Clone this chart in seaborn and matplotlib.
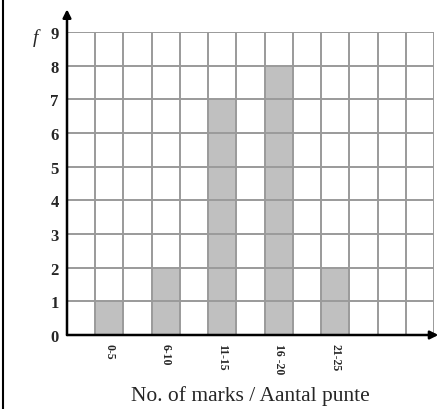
import matplotlib
matplotlib.use("Agg")
import matplotlib.pyplot as plt
import seaborn as sns
import pandas as pd
from matplotlib.lines import Line2D

# ── Data ─────────────────────────────────────────────────────────────────────
mark_groups = ["0-5", "6-10", "11-15", "16 -20", "21-25"]
frequencies = [1, 2, 7, 8, 2]
group_slots = [1.5, 3.5, 5.5, 7.5, 9.5]   # column centres on the grid paper
n_columns = 13
y_ticks = list(range(0, 10))

df = pd.DataFrame({"slot": group_slots, "f": frequencies, "group": mark_groups})

sns.set_theme(style="white")
plt.rcParams["font.family"] = ["Liberation Serif", "DejaVu Serif"]

fig = plt.figure(figsize=(4.43, 4.10), dpi=100)
ax = fig.add_axes([67 / 443, 74 / 410, 367 / 443, 303 / 410])

sns.barplot(data=df, x="slot", y="f", native_scale=True, width=0.5,
            color="#c0c0c0", saturation=1, edgecolor="none", ax=ax)

ax.set_xlim(0, n_columns)
ax.set_ylim(0, 9)

# grid paper drawn over the bars
ax.set_axisbelow(False)
ax.set_xticks(range(0, n_columns + 1), minor=True)
ax.set_yticks(y_ticks)
ax.grid(which="minor", axis="x", color="#9a9a9a", linewidth=1.4)
ax.grid(which="major", axis="y", color="#9a9a9a", linewidth=1.4)

ax.set_xticks(group_slots)
ax.set_xticklabels(mark_groups, rotation=270, fontsize=8.5, fontweight="bold")
ax.set_yticklabels([str(v) for v in y_ticks], fontsize=12, fontweight="bold")
ax.tick_params(axis="both", length=0, pad=6)
ax.tick_params(axis="y", pad=6)

for side in ["top", "right", "left", "bottom"]:
    ax.spines[side].set_visible(False)

# axes with arrow heads
ax.annotate("", xy=(0, 1.075), xytext=(0, 0), xycoords="axes fraction",
            arrowprops=dict(arrowstyle="-|>", color="black", lw=1.8,
                            mutation_scale=12, shrinkA=0, shrinkB=0),
            annotation_clip=False)
ax.annotate("", xy=(1.012, 0), xytext=(0, 0), xycoords="axes fraction",
            arrowprops=dict(arrowstyle="-|>", color="black", lw=1.8,
                            mutation_scale=12, shrinkA=0, shrinkB=0),
            annotation_clip=False)

ax.set_xlabel("No. of marks / Aantal punte", fontsize=15.5, labelpad=8)
ax.set_ylabel("")
fig.text(35 / 443, 1 - 38 / 410, "f", fontsize=14, style="italic",
         ha="center", va="center")

# frame line on the left edge of the picture
fig.add_artist(Line2D([2.5 / 443, 2.5 / 443], [0, 1], color="black", lw=1.5,
                      transform=fig.transFigure))

fig.savefig("out.png", dpi=100)
